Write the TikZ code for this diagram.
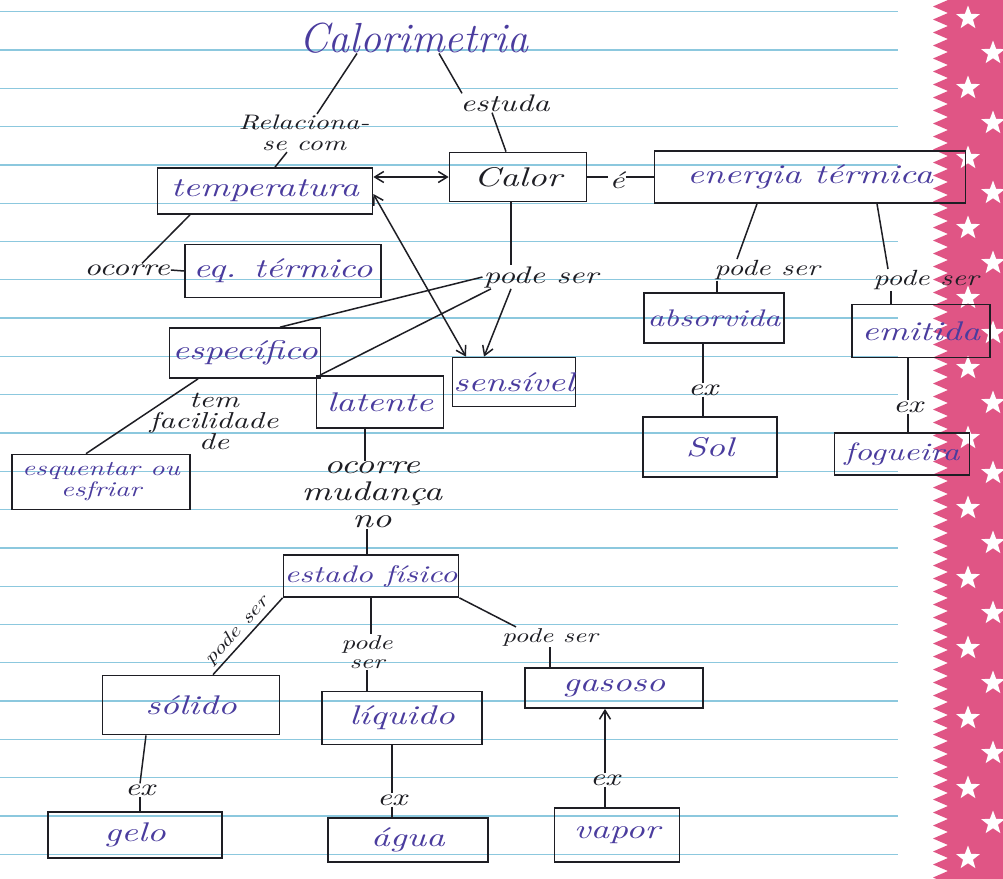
\documentclass[tikz,border=0pt]{standalone}
\usepackage{fontspec}
\usetikzlibrary{arrows.meta,shapes.geometric}
\newfontfamily\handfont[ItalicFont=lmroman10-italic.otf, FakeStretch=1.35]{lmroman10-regular.otf}
\definecolor{ink}{HTML}{1E1E24}
\definecolor{blueink}{HTML}{4A3C9E}
\definecolor{ruling}{HTML}{8CC8DE}
\definecolor{tape}{HTML}{E05585}
\newcommand\handsize[2]{\handfont\itshape\fontsize{#1}{#2}\selectfont}
\begin{document}
\begin{tikzpicture}[x=1pt,y=-1pt,
  concept/.style={draw=ink, line width=1.7pt, text=blueink, font=\handsize{27}{28}, inner sep=1pt, align=center},
  linkword/.style={text=ink, font=\handsize{24}{22}, inner sep=1pt, align=center},
  smalllink/.style={text=ink, font=\handsize{20}{19}, inner sep=1pt, align=center},
  link/.style={draw=ink, line width=1.5pt},
  tip/.style={-{Straight Barb[length=9pt,width=11pt]}},
  bothtips/.style={{Straight Barb[length=9pt,width=11pt]}-{Straight Barb[length=9pt,width=11pt]}},
  starmark/.style={star, star points=5, star point ratio=2.4, fill=white, minimum size=25pt, inner sep=0pt}]
\useasboundingbox (0,0) rectangle (1003,878);
\fill[white] (0,0) rectangle (1003,878);

% ruled notebook lines
\foreach \k in {0,...,22}
  \draw[ruling, line width=1.3pt] (0,{11.7+38.3*\k}) -- (898,{11.7+38.3*\k});

% patterned paper strip along the right edge
\fill[tape] (948,0) \foreach \k in {0,...,67} { -- (933,{\k*13+6.5}) -- (948,{\k*13+13}) } -- (1003,884) -- (1003,0) -- cycle;
\foreach \k in {0,...,12} {
  \node[starmark] at (968,{18+70*\k}) {};
  \node[starmark] at (993,{53+70*\k}) {};
}

% title and first level
\node[text=blueink, font={\fontsize{42}{44}\selectfont\itshape}, inner sep=0pt] (calorimetria) at (414,38) {Calorimetria};
\node[linkword, font=\handsize{21}{21}] (relaciona) at (304,133) {Relaciona-\\se com};
\node[linkword] (estuda) at (505,103) {estuda};
\node[concept, minimum width=215, minimum height=46] (temp) at (265,191) {temperatura};
\node[concept, text=ink, minimum width=137, minimum height=49] (calor) at (518,177) {Calor};
\node[linkword] (e) at (617,180) {é};
\node[concept, minimum width=311, minimum height=52] (energia) at (810,177) {energia térmica};

% temperature / heat branch
\node[linkword] (ocorre) at (127,270) {ocorre};
\node[concept, minimum width=196, minimum height=53] (eq) at (283,271) {eq. térmico};
\node[linkword] (podeser) at (541,277) {pode ser};
\node[concept, minimum width=151, minimum height=50] (especifico) at (245,353) {específico};
\node[concept, minimum width=118, minimum height=49] (sensivel) at (514,382) {sensível};
\node[concept, minimum width=127, minimum height=52] (latente) at (380,402) {latente};
\node[linkword, font=\handsize{23}{21}] (facilidade) at (214,421) {tem\\facilidade\\de};
\node[concept, font=\handsize{21}{21}, minimum width=178, minimum height=55] (esquentar) at (101,482) {esquentar ou\\esfriar};
\node[linkword, font=\handsize{27}{27}] (mudanca) at (372,495) {ocorre\\mudança\\no};

% physical states
\node[concept, font=\handsize{24}{26}, minimum width=173, minimum height=42] (estado) at (371,576) {estado físico};
\node[smalllink, font=\handsize{18}{18}, rotate=48] (ps1) at (237,631) {pode\ ser};
\node[smalllink] (ps2) at (367,652) {pode\\ser};
\node[smalllink] (ps3) at (550,637) {pode ser};
\node[concept, minimum width=177, minimum height=59] (solido) at (191,705) {sólido};
\node[concept, minimum width=160, minimum height=53] (liquido) at (402,718) {líquido};
\node[concept, minimum width=178, minimum height=40] (gasoso) at (614,688) {gasoso};
\node[linkword] (ex1) at (140,790) {ex};
\node[linkword] (ex2) at (392,800) {ex};
\node[linkword] (ex3) at (605,780) {ex};
\node[concept, minimum width=174, minimum height=46] (gelo) at (135,835) {gelo};
\node[concept, minimum width=160, minimum height=44] (agua) at (408,840) {água};
\node[concept, minimum width=125, minimum height=54] (vapor) at (617,835) {vapor};

% thermal energy branch
\node[linkword, font=\handsize{22}{22}] (ps4) at (767,270) {pode ser};
\node[linkword, font=\handsize{22}{22}] (ps5) at (926,280) {pode ser};
\node[concept, font=\handsize{24}{26}, minimum width=140, minimum height=50] (absorvida) at (714,318) {absorvida};
\node[concept, minimum width=138, minimum height=53] (emitida) at (921,331) {emitida};
\node[linkword] (ex4) at (703,390) {ex};
\node[linkword] (ex5) at (908,407) {ex};
\node[concept, minimum width=134, minimum height=60] (sol) at (710,447) {Sol};
\node[concept, font=\handsize{25}{26}, minimum width=135, minimum height=42] (fogueira) at (902,454) {fogueira};

% connectors: top
\draw[link] ([xshift=-57]calorimetria.south) -- ([xshift=13]relaciona.north);
\draw[link] ([xshift=25]calorimetria.south) -- ([xshift=-43]estuda.north);
\draw[link] ([xshift=-17]relaciona.south) -- ([xshift=10]temp.north);
\draw[link] ([xshift=-13]estuda.south) -- ([xshift=-12]calor.north);
\draw[link, bothtips] (temp.east |- calor.west) -- (calor.west);
\draw[link] (calor.east) -- (e.west |- calor.east);
\draw[link] (e.east |- energia.west) -- (energia.west);

% connectors: temperature / heat
\draw[link] ([xshift=-75]temp.south) -- ([xshift=15]ocorre.north);
\draw[link] (ocorre.east) -- (eq.west);
\draw[link] ([xshift=-7]calor.south) -- ([xshift=-7]calor.south |- podeser.north);
\draw[link] (podeser.west) -- ([xshift=35]especifico.north);
\draw[link] ([xshift=-50]podeser.south) -- ([xshift=-60]latente.north);
\draw[link, tip] ([xshift=-30]podeser.south) -- ([xshift=-30]sensivel.north);
\draw[link, bothtips] ([yshift=-3]temp.east) -- ([xshift=-48]sensivel.north);
\draw[link] ([xshift=-47]especifico.south) -- ([xshift=-15]esquentar.north);
\draw[link] ([xshift=-15]latente.south) -- ([xshift=-15]latente.south |- mudanca.north);
\draw[link] ([xshift=-5]mudanca.south) -- ([xshift=-5]mudanca.south |- estado.north);

% connectors: physical states
\draw[link] (estado.south west) -- ([xshift=22]solido.north);
\draw[link] (estado.south) -- (estado.south |- ps2.north);
\draw[link] (ps2.south) -- (ps2.south |- liquido.north);
\draw[link] (estado.south east) -- ([xshift=-34]ps3.north);
\draw[link] (ps3.south) -- (ps3.south |- gasoso.north);
\draw[link] ([xshift=-45]solido.south) -- (ex1.north);
\draw[link] (ex1.south) -- (ex1.south |- gelo.north);
\draw[link] (ex2.north |- liquido.south) -- (ex2.north);
\draw[link] (ex2.south) -- (ex2.south |- agua.north);
\draw[link, tip] (ex3.north) -- (ex3.north |- gasoso.south);
\draw[link] (ex3.south) -- (ex3.south |- vapor.north);

% connectors: thermal energy
\draw[link] ([xshift=-53]energia.south) -- ([xshift=-30]ps4.north);
\draw[link] ([xshift=-50]ps4.south) -- ([xshift=-50]ps4.south |- absorvida.north);
\draw[link] ([xshift=67]energia.south) -- ([xshift=-38]ps5.north);
\draw[link] ([xshift=-35]ps5.south) -- ([xshift=-35]ps5.south |- emitida.north);
\draw[link] (ex4.north |- absorvida.south) -- (ex4.north);
\draw[link] (ex4.south) -- (ex4.south |- sol.north);
\draw[link] (ex5.north |- emitida.south) -- (ex5.north);
\draw[link] (ex5.south) -- (ex5.south |- fogueira.north);
\end{tikzpicture}
\end{document}
